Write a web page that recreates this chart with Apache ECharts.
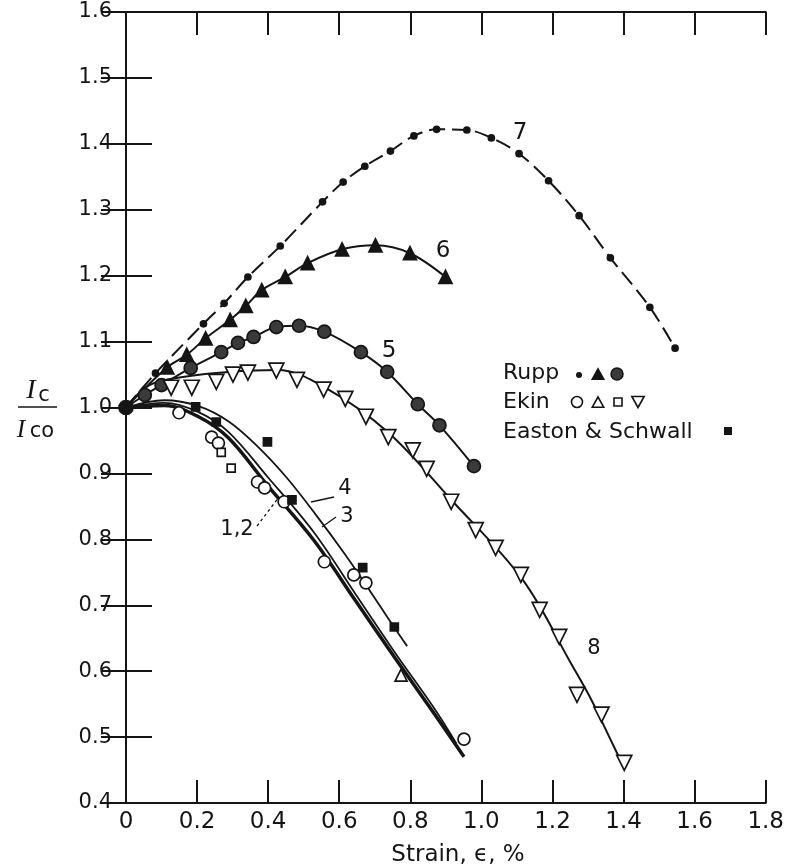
<!DOCTYPE html>
<html>
<head>
<meta charset="utf-8">
<script src="https://cdn.jsdelivr.net/npm/echarts@6/dist/echarts.min.js"></script>
<style>
  html, body { margin: 0; padding: 0; background: #fff; }
  #chart { width: 787px; height: 868px; }
</style>
</head>
<body>
<div id="chart"></div>
<script>
// tick labels
const xTickLabels = ['0', '0.2', '0.4', '0.6', '0.8', '1.0', '1.2', '1.4', '1.6', '1.8']
const yTickLabels = ['0.4', '0.5', '0.6', '0.7', '0.8', '0.9', '1.0', '1.1', '1.2', '1.3', '1.4', '1.5', '1.6']

// [strain %, Ic/Ico]
const origin = [[0, 1.0]]

// Rupp, curve 7 (small dots, dash line)
const rupp7 = [
  [0.083, 1.052], [0.218, 1.127], [0.276, 1.158], [0.343, 1.198], [0.434, 1.245],
  [0.553, 1.312], [0.611, 1.342], [0.672, 1.366], [0.744, 1.389], [0.810, 1.412],
  [0.874, 1.422], [0.959, 1.421], [1.028, 1.409], [1.106, 1.385], [1.189, 1.344],
  [1.275, 1.291], [1.363, 1.227], [1.474, 1.152], [1.545, 1.090]
]
// Rupp, curve 6 (filled triangles)
const rupp6 = [
  [0.116, 1.061], [0.171, 1.080], [0.224, 1.105], [0.293, 1.133], [0.337, 1.154],
  [0.382, 1.178], [0.448, 1.198], [0.511, 1.219], [0.608, 1.240], [0.702, 1.246],
  [0.799, 1.234], [0.899, 1.198]
]
// Rupp, curve 5 (filled circles)
const rupp5 = [
  [0.053, 1.019], [0.100, 1.034], [0.182, 1.060], [0.268, 1.084], [0.315, 1.098],
  [0.359, 1.107], [0.423, 1.122], [0.487, 1.124], [0.558, 1.115], [0.661, 1.084],
  [0.735, 1.054], [0.821, 1.005], [0.882, 0.973], [0.979, 0.911]
]
// Ekin, curve 8 (open down triangles) and its fitted line
const ekin8 = [
  [0.127, 1.030], [0.185, 1.030], [0.254, 1.039], [0.301, 1.050], [0.343, 1.053],
  [0.423, 1.056], [0.481, 1.042], [0.556, 1.027], [0.617, 1.013], [0.675, 0.986],
  [0.738, 0.955], [0.807, 0.935], [0.846, 0.907], [0.915, 0.857], [0.984, 0.814],
  [1.040, 0.787], [1.111, 0.746], [1.164, 0.693], [1.219, 0.652], [1.269, 0.564],
  [1.338, 0.534], [1.402, 0.461]
]
const fit8 = [
  [0, 1.0], [0.066, 1.034], [0.17, 1.047], [0.288, 1.054], [0.426, 1.057],
  [0.564, 1.029], [0.738, 0.962], [0.915, 0.860], [1.117, 0.738], [1.255, 0.609],
  [1.31, 0.556], [1.36, 0.500], [1.402, 0.453]
]
// curves 1,2 / 3 / 4
const fit12 = [
  [0, 1.0], [0.108, 1.003], [0.204, 0.986], [0.288, 0.954], [0.398, 0.882],
  [0.528, 0.799], [0.647, 0.706], [0.757, 0.620], [0.868, 0.535], [0.951, 0.470]
]
const fit3 = [
  [0, 1.0], [0.108, 1.007], [0.204, 0.993], [0.288, 0.963], [0.398, 0.895],
  [0.528, 0.811], [0.647, 0.716], [0.757, 0.628], [0.868, 0.543], [0.93, 0.490]
]
const fit4 = [
  [0, 1.0], [0.108, 1.011], [0.204, 1.002], [0.288, 0.979], [0.370, 0.941],
  [0.453, 0.893], [0.536, 0.836], [0.614, 0.779], [0.675, 0.731], [0.744, 0.675],
  [0.791, 0.638]
]
const ekinCircles = [
  [0.149, 0.992], [0.241, 0.955], [0.260, 0.946], [0.370, 0.887], [0.390, 0.878],
  [0.445, 0.857], [0.558, 0.766], [0.641, 0.746], [0.675, 0.734], [0.951, 0.497]
]
const ekinSquares = [[0.268, 0.932], [0.296, 0.908]]
const ekinTriangles = [[0.774, 0.594]]
const eastonSquares = [
  [0.196, 1.001], [0.254, 0.978], [0.398, 0.948], [0.467, 0.860], [0.666, 0.757],
  [0.755, 0.667]
]

const ink = '#151515'
const font = 'DejaVu Sans'

function line(data, width, type) {
  return {
    type: 'line',
    data: data,
    smooth: 0.35,
    symbol: 'none',
    lineStyle: { color: ink, width: width, type: type || 'solid' },
    z: 2,
  }
}

function marks(data, symbol, size, fill, rotate) {
  return {
    type: 'scatter',
    data: data,
    symbol: symbol,
    symbolSize: size,
    symbolRotate: rotate || 0,
    itemStyle: { color: fill, borderColor: ink, borderWidth: 1.7, opacity: 1 },
    z: 3,
  }
}

function txt(x, y, text, size, extra) {
  return {
    type: 'text',
    x: x,
    y: y,
    style: Object.assign({
      text: text,
      fill: ink,
      font: size + 'px "' + font + '"',
      align: 'center',
      verticalAlign: 'middle',
    }, extra || {}),
  }
}

function seg(x1, y1, x2, y2, dash) {
  return {
    type: 'line',
    shape: { x1: x1, y1: y1, x2: x2, y2: y2 },
    style: { stroke: ink, lineWidth: 1.3, lineDash: dash || null },
  }
}

function tri(cx, cy, r, down, fill) {
  const s = down ? -1 : 1
  return {
    type: 'polygon',
    shape: { points: [[cx, cy - s * r], [cx - r * 0.95, cy + s * r * 0.7], [cx + r * 0.95, cy + s * r * 0.7]] },
    style: { fill: fill, stroke: ink, lineWidth: 1.6 },
  }
}

const axisCommon = {
  axisLine: { show: true, lineStyle: { color: ink, width: 2 } },
  splitLine: { show: false },
}

const myChart = echarts.init(document.getElementById('chart'), null, { renderer: 'canvas' })

const option = {
  backgroundColor: '#fff',
  animation: false,
  grid: { left: 126, right: 10, top: 12, bottom: 65 },
  xAxis: [
    Object.assign({
      type: 'value', min: 0, max: 1.8, interval: 0.2, position: 'bottom',
      axisTick: { inside: true, length: 23, lineStyle: { color: ink, width: 2 } },
      axisLabel: {
        margin: 8, fontSize: 23, fontFamily: font, color: ink,
        formatter: v => xTickLabels[Math.round(v / 0.2)],
      },
    }, axisCommon),
    Object.assign({
      type: 'value', min: 0, max: 1.8, interval: 0.2, position: 'top',
      axisTick: { inside: true, length: 23, lineStyle: { color: ink, width: 2 } },
      axisLabel: { show: false },
    }, axisCommon),
  ],
  yAxis: [
    Object.assign({
      type: 'value', min: 0.4, max: 1.6, interval: 0.1, position: 'left',
      axisTick: { inside: true, length: 26, lineStyle: { color: ink, width: 2 } },
      axisLabel: {
        margin: 14, fontSize: 21, fontFamily: font, color: ink,
        formatter: v => yTickLabels[Math.round((v - 0.4) / 0.1)],
      },
    }, axisCommon),
    Object.assign({
      type: 'value', min: 0.4, max: 1.6, interval: 0.1, position: 'right',
      axisTick: { inside: true, length: 25, lineStyle: { color: ink, width: 2 } },
      axisLabel: { show: false },
    }, axisCommon),
  ],
  series: [
    line(origin.concat(rupp7), 2, [16, 7]),
    line(origin.concat(rupp6), 2),
    line(origin.concat(rupp5), 2),
    line(fit8, 2),
    line(fit12, 3.5),
    line(fit3, 1.8),
    line(fit4, 1.8),
    marks(rupp7, 'circle', 6, ink),
    marks(rupp6, 'triangle', 13, ink),
    marks(rupp5, 'circle', 13, '#3a3a3a'),
    marks(ekin8, 'triangle', 15, '#fff', 180),
    marks(ekinCircles, 'circle', 12, '#fff'),
    marks(ekinSquares, 'rect', 8, '#fff'),
    marks(ekinTriangles, 'triangle', 12, '#fff'),
    marks(eastonSquares, 'rect', 8, ink),
    marks(origin, 'circle', 14, ink),
  ],
  graphic: [
    // curve labels
    txt(520, 133, '7', 23),
    txt(443, 251, '6', 23),
    txt(389, 351, '5', 23),
    txt(594, 649, '8', 21),
    txt(345, 489, '4', 21),
    txt(347, 517, '3', 21),
    txt(237, 530, '1,2', 21),
    seg(334, 497, 311, 502),
    seg(336, 517, 322, 527),
    seg(257, 526, 279, 497, [3, 3]),
    // legend
    txt(503, 373, 'Rupp', 22, { align: 'left' }),
    txt(503, 402, 'Ekin', 22, { align: 'left' }),
    txt(503, 432, 'Easton & Schwall', 22, { align: 'left' }),
    { type: 'circle', shape: { cx: 579, cy: 375, r: 3 }, style: { fill: ink } },
    tri(598, 375, 6, false, ink),
    { type: 'circle', shape: { cx: 617, cy: 374, r: 6 }, style: { fill: '#3a3a3a', stroke: ink, lineWidth: 1.5 } },
    { type: 'circle', shape: { cx: 577, cy: 402, r: 5.5 }, style: { fill: '#fff', stroke: ink, lineWidth: 1.6 } },
    tri(598, 403, 6, false, '#fff'),
    { type: 'rect', shape: { x: 614, y: 398, width: 8, height: 8 }, style: { fill: '#fff', stroke: ink, lineWidth: 1.6 } },
    tri(638, 401, 6.5, true, '#fff'),
    { type: 'rect', shape: { x: 724, y: 427, width: 8, height: 8 }, style: { fill: ink } },
    // y title: Ic / Ico
    txt(31, 391, 'I', 28, { font: 'italic 28px "Liberation Serif"' }),
    txt(44, 396, 'c', 21),
    seg(18, 407, 57, 407),
    txt(21, 430, 'I', 25, { font: 'italic 25px "Liberation Serif"' }),
    txt(42, 432, 'co', 21),
    // x title
    txt(458, 855, 'Strain, \u03f5, %', 23),
  ],
}

option && myChart.setOption(option)
</script>
</body>
</html>
